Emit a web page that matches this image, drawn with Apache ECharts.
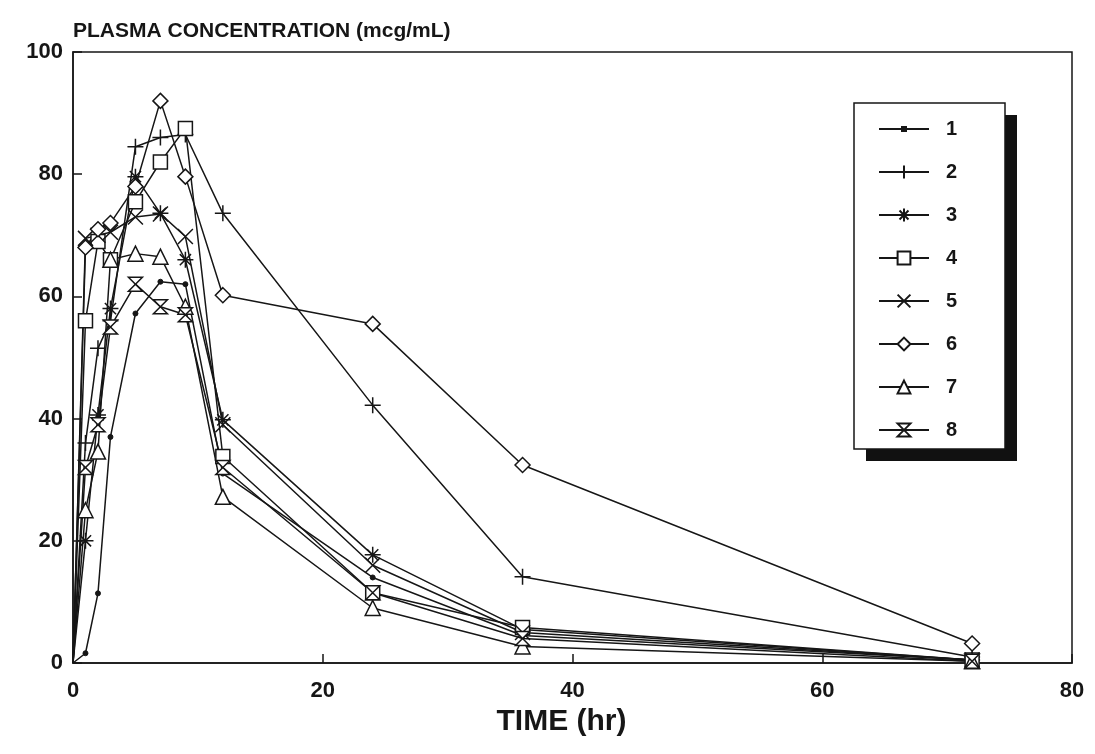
<!DOCTYPE html>
<html>
<head>
    <meta charset="UTF-8">
    <title>Plasma concentration</title>
    <script src="https://cdn.jsdelivr.net/npm/echarts@6/dist/echarts.min.js"></script>
    <style>
        body { margin: 0; background: #fff; }
        #chart { width: 1095px; height: 754px; }
    </style>
</head>
<body>
    <div id="chart"></div>
    <script>
        // sampling times (hr)
        const times = [0, 1, 2, 3, 5, 7, 9, 12, 24, 36, 72];
        const names = ['1', '2', '3', '4', '5', '6', '7', '8'];

        // plasma concentration (mcg/mL), one array per subject
        const s1 = [0, 1.6, 11.4, 37, 57.2, 62.4, 62, 31, 14, 4.5, 0.5];
        const s2 = [0, 36, 51.5, 56, 84.5, 86, 86.5, 73.6, 42.2, 14.1, 1];
        const s3 = [0, 20, 40.6, 58, 79.6, 73.6, 66, 39.8, 17.7, 5.5, 0.5];
        const s4 = [0, 56, 69, 66, 75.5, 82, 87.5, 33.8, 11.5, 5.8, 0.5];
        const s5 = [0, 69.5, 70, 70.5, 73, 73.5, 69.8, 39, 16, 5, 0.5];
        const s6 = [0, 68, 71, 72, 78, 92, 79.6, 60.2, 55.5, 32.4, 3.2];
        const s7 = [0, 25, 34.6, 66, 67, 66.5, 58.3, 27.2, 9, 2.7, 0.3];
        const s8 = [0, 32, 39, 55, 62, 58.3, 57, 32, 11.5, 4, 0.3];

        const xTicks = [0, 20, 40, 60, 80];
        const yTicks = [0, 20, 40, 60, 80, 100];

        const allSeries = [s1, s2, s3, s4, s5, s6, s7, s8];
        const symbols = [
            'circle',
            'path://M5,0L5,10M0,5L10,5',
            'path://M5,0L5,10M0,5L10,5M1.5,1.5L8.5,8.5M8.5,1.5L1.5,8.5',
            'rect',
            'path://M0,0L10,10M10,0L0,10',
            'diamond',
            'triangle',
            'path://M0,0L10,0L0,10L10,10Z'
        ];
        const sizes = [5, 16, 16, 14, 15, 15, 15, 14];

        const ink = '#161616';
        const font = '"Liberation Sans", Arial, sans-serif';

        // legend: series 1 gets a custom icon (line + small dot), others inherit
        const legendData = names.map((n, i) => i === 0
            ? { name: n, icon: 'path://M0,8L50,8M23,6L27,6L27,10L23,10ZM25,0M25,16' }
            : { name: n });

        const chart = echarts.init(document.getElementById('chart'));
        chart.setOption({
            backgroundColor: '#fff',
            animation: false,
            title: {
                text: 'PLASMA CONCENTRATION (mcg/mL)',
                left: 68, top: 16,
                textStyle: { fontFamily: font, fontSize: 21, fontWeight: 'bold', color: ink }
            },
            grid: {
                left: 73, right: 23, top: 52, bottom: 91,
                show: true, borderColor: ink, borderWidth: 1.5, backgroundColor: 'transparent'
            },
            // legend frame with solid drop shadow
            graphic: [
                { type: 'rect', z: 3, shape: { x: 866, y: 115, width: 151, height: 346 }, style: { fill: '#111' } },
                { type: 'rect', z: 3, shape: { x: 854, y: 103, width: 151, height: 346 }, style: { fill: '#fff', stroke: ink, lineWidth: 1.5 } }
            ],
            legend: {
                orient: 'vertical',
                left: 878, top: 119,
                padding: 0,
                itemWidth: 50, itemHeight: 16, itemGap: 23,
                textStyle: { fontFamily: font, fontSize: 20, fontWeight: 'bold', color: ink, padding: [0, 0, 0, 12] },
                data: legendData
            },
            xAxis: {
                type: 'value', min: xTicks[0], max: xTicks[xTicks.length - 1], interval: 20,
                name: 'TIME (hr)', nameLocation: 'middle', nameGap: 37,
                nameTextStyle: { fontFamily: font, fontSize: 30, fontWeight: 'bold', color: ink, padding: [0, 22, 0, 0] },
                axisLine: { lineStyle: { color: ink, width: 1.5 } },
                axisTick: { inside: true, length: 9, lineStyle: { color: ink, width: 1.5 } },
                axisLabel: { fontFamily: font, fontSize: 22, fontWeight: 'bold', color: ink, margin: 17 },
                splitLine: { show: false }
            },
            yAxis: {
                type: 'value', min: yTicks[0], max: yTicks[yTicks.length - 1], interval: 20,
                axisLine: { show: true, lineStyle: { color: ink, width: 1.5 } },
                axisTick: { show: true, inside: true, length: 9, lineStyle: { color: ink, width: 1.5 } },
                axisLabel: { fontFamily: font, fontSize: 22, fontWeight: 'bold', color: ink, margin: 10 },
                splitLine: { show: false }
            },
            series: allSeries.map((vals, i) => ({
                name: names[i],
                type: 'line',
                data: times.map((t, j) => j === 0
                    ? { value: [t, vals[j]], symbol: 'none' }
                    : [t, vals[j]]),
                symbol: symbols[i],
                symbolSize: sizes[i],
                showAllSymbol: true,
                lineStyle: { color: ink, width: 1.5 },
                itemStyle: i === 0
                    ? { color: ink, borderColor: ink, borderWidth: 1 }
                    : { color: '#fff', borderColor: ink, borderWidth: 1.5 },
                emphasis: { disabled: true }
            }))
        });
    </script>
</body>
</html>
